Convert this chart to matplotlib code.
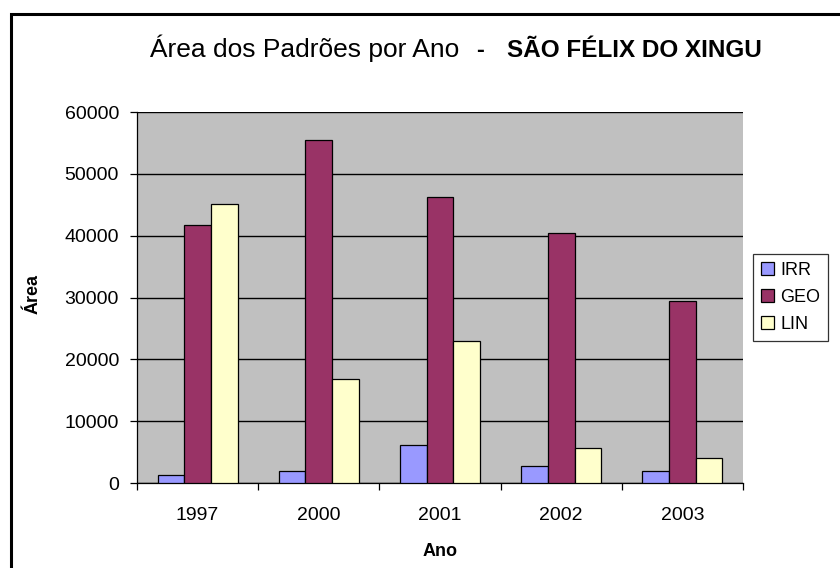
import numpy as np
import matplotlib
matplotlib.use("Agg")
import matplotlib.pyplot as plt
from matplotlib.lines import Line2D

plt.rcParams['font.family'] = ['Liberation Sans', 'DejaVu Sans']

# values
anos = ["1997", "2000", "2001", "2002", "2003"]
irr = [1300, 2000, 6200, 2700, 2000]
geo = [41700, 55400, 46200, 40500, 29500]
lin = [45100, 16800, 22900, 5600, 4000]
series = ["IRR", "GEO", "LIN"]
cores = ["#9999FF", "#993366", "#FFFFCC"]

W, H = 840, 568
fig = plt.figure(figsize=(W / 100, H / 100), dpi=100)
ax = fig.add_axes([137 / W, 1 - 483 / H, 606 / W, 371 / H])
ax.set_facecolor("#C0C0C0")

x = np.arange(len(anos))
bw = 0.22
for k, (vals, nome, cor) in enumerate(zip([irr, geo, lin], series, cores)):
    ax.bar(x + (k - 1) * bw, vals, bw, color=cor, edgecolor="black",
           linewidth=0.9, label=nome, zorder=3)

ax.set_xlim(-0.5, len(anos) - 0.5)
ax.set_ylim(0, 60000)
ax.set_yticks(np.arange(0, 60001, 10000))
ax.yaxis.grid(True, color="black", linewidth=1.0, zorder=1)
ax.set_axisbelow(True)

for s in ["top", "right"]:
    ax.spines[s].set_visible(False)
ax.spines["left"].set_linewidth(0.9)
ax.spines["bottom"].set_linewidth(0.9)

ax.set_xticks(x)
ax.set_xticklabels(anos)
ax.set_xticks(np.arange(-0.5, len(anos)), minor=True)
ax.tick_params(axis="x", which="major", length=0, pad=17, labelsize=14)
ax.tick_params(axis="x", which="minor", length=5, width=0.9, direction="out")
ax.tick_params(axis="y", length=5, width=0.9, direction="out", pad=8, labelsize=14)

ax.set_xlabel("Ano", fontsize=13, fontweight="bold")
ax.xaxis.set_label_coords(0.5, -0.162)
ax.set_ylabel("Área", fontsize=13, fontweight="bold")
ax.yaxis.set_label_coords(-0.157, 0.51)

leg = ax.legend(loc="center left", bbox_to_anchor=(753 / W, 1 - 297.5 / H),
                bbox_transform=fig.transFigure, fontsize=13, frameon=True,
                fancybox=False, edgecolor="black", handlelength=0.7,
                handleheight=0.7, handletextpad=0.35, labelspacing=0.55,
                borderpad=0.45, borderaxespad=0)
leg.get_frame().set_linewidth(0.9)
leg.get_frame().set_facecolor("white")

fig.text(150 / W, 1 - 57 / H, "Área dos Padrões por Ano", fontsize=19,
         ha="left", va="baseline")
fig.text(480 / W, 1 - 57 / H, "-", fontsize=17, fontweight="bold",
         ha="center", va="baseline")
fig.text(762 / W, 1 - 57 / H, "SÃO FÉLIX DO XINGU", fontsize=17.5,
         fontweight="bold", ha="right", va="baseline")

# outer frame (top and left edges only visible)
fig.add_artist(Line2D([10.5 / W, 10.5 / W, 1], [0, 1 - 13.5 / H, 1 - 13.5 / H],
                      transform=fig.transFigure, color="black", linewidth=2.2,
                      solid_joinstyle="miter"))

fig.savefig("out.png", dpi=100)
